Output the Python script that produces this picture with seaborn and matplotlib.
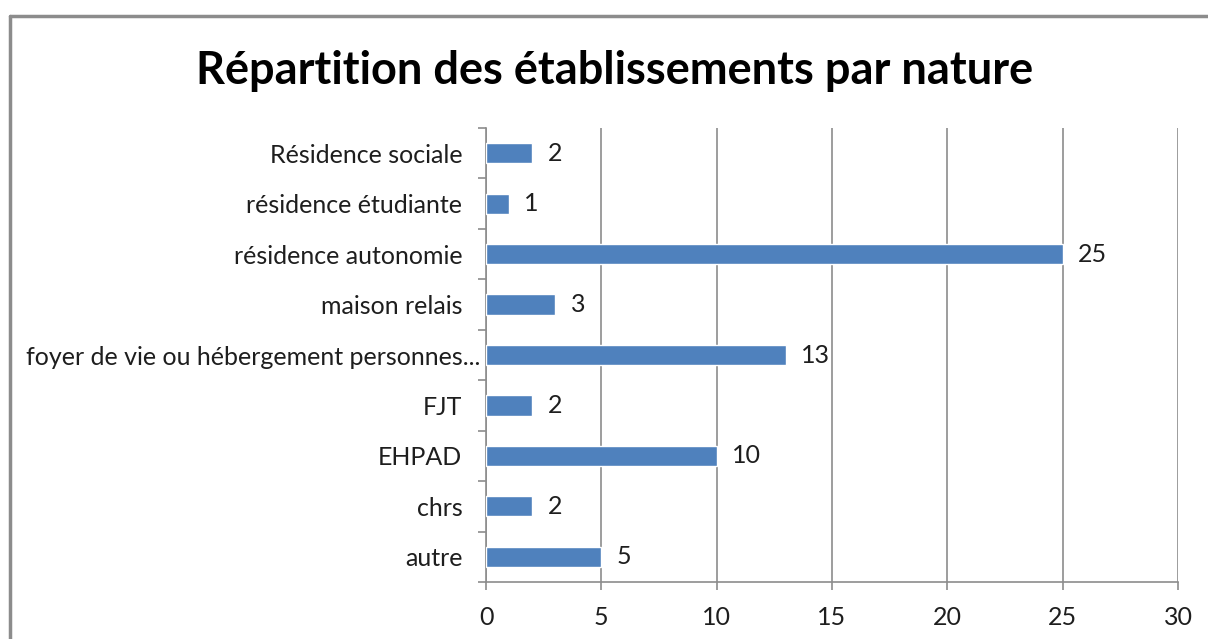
import matplotlib
matplotlib.use("Agg")
import matplotlib.pyplot as plt
import matplotlib.transforms as mtransforms
import seaborn as sns
import pandas as pd
from matplotlib.lines import Line2D

# ==============================================================================
# DONNÉES
# ==============================================================================
categories = [
    "Résidence sociale",
    "résidence étudiante",
    "résidence autonomie",
    "maison relais",
    "foyer de vie ou hébergement personnes...",
    "FJT",
    "EHPAD",
    "chrs",
    "autre",
]
valeurs = [2, 1, 25, 3, 13, 2, 10, 2, 5]
x_ticks = [0, 5, 10, 15, 20, 25, 30]

df = pd.DataFrame({"Nature": categories, "Nombre": valeurs})

# ==============================================================================
# STYLE
# ==============================================================================
sns.set_theme(style="white")
plt.rcParams["font.family"] = ["Lato", "DejaVu Sans"]

BLEU = "#4F81BD"
GRIS = "#8C8C8C"
TEXTE = "#1e1e1e"
FS = 18

fig = plt.figure(figsize=(12.08, 6.39), dpi=100)
ax = fig.add_axes([486 / 1208, 1 - 582 / 639, 692 / 1208, 454 / 639])

sns.barplot(data=df, y="Nature", x="Nombre", orient="h", color=BLEU,
            width=0.4, saturation=1, ax=ax, zorder=3)

for container in ax.containers:
    ax.bar_label(container, fmt="%d", padding=11, fontsize=FS, color=TEXTE)

ax.set_xlim(0, 30)
ax.set_xticks(x_ticks)
ax.set_ylim(len(categories) - 0.5, -0.5)
ax.set_xlabel("")
ax.set_ylabel("")
ax.set_title("")

# grille verticale
ax.grid(axis="x", color=GRIS, linewidth=1.2, zorder=0)
ax.grid(axis="y", visible=False)
ax.set_axisbelow(True)

for side in ["top", "right"]:
    ax.spines[side].set_visible(False)
for side in ["left", "bottom"]:
    ax.spines[side].set_color(GRIS)
    ax.spines[side].set_linewidth(1.2)

# graduations : x vers le bas, y aux limites des catégories
ax.tick_params(axis="x", which="major", direction="out", length=6, width=1.2,
               color=GRIS, labelsize=FS, pad=11, labelcolor=TEXTE, bottom=True)
ax.tick_params(axis="y", which="major", length=0, labelsize=FS, pad=17,
               labelcolor=TEXTE)
ax.set_yticks(range(len(categories)), minor=False)
ax.set_yticks([i - 0.5 for i in range(len(categories) + 1)], minor=True)
ax.tick_params(axis="y", which="minor", direction="out", length=6, width=1.2,
               color=GRIS, left=True)

# le libellé long déborde vers l'axe, comme dans Excel
for lbl in ax.get_yticklabels():
    if lbl.get_text().endswith("..."):
        lbl.set_transform(lbl.get_transform() +
                          mtransforms.ScaledTranslation(0.18, 0, fig.dpi_scale_trans))

fig.text(615 / 1208, 1 - 71 / 639, "Répartition des établissements par nature",
         ha="center", va="center", fontsize=32.5, fontweight="bold", color="black")

# cadre du graphique
fig.add_artist(Line2D([10 / 1208, 10 / 1208], [0, 1 - 16 / 639],
                      transform=fig.transFigure, color=GRIS, linewidth=2.5))
fig.add_artist(Line2D([10 / 1208, 1], [1 - 16 / 639, 1 - 16 / 639],
                      transform=fig.transFigure, color=GRIS, linewidth=2.5))

fig.savefig("out.png", dpi=100)
